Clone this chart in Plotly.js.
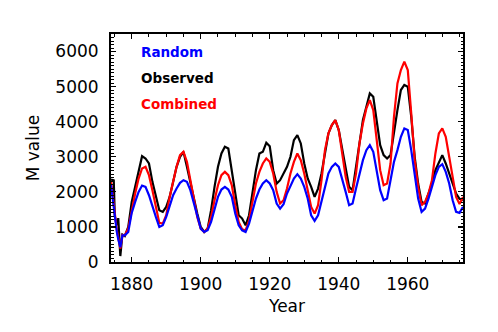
<!DOCTYPE html>
<html>
<head>
<meta charset="utf-8">
<script src="https://cdn.plot.ly/plotly-3.0.1.min.js"></script>
<style>html,body{margin:0;padding:0;background:#fff;}#chart{width:498px;height:332px;}</style>
</head>
<body>
<div id="chart"></div>
<script>
const years = [1874.0, 1874.8, 1875.1, 1875.7, 1876.1, 1876.7, 1877.3, 1878,
  1879, 1880, 1881, 1882, 1883, 1884, 1885, 1886, 1887, 1888, 1889,
  1890, 1891, 1892, 1893, 1894, 1895, 1896, 1897, 1898, 1899,
  1900, 1901, 1902, 1903, 1904, 1905, 1906, 1907, 1908, 1909,
  1910, 1911, 1912, 1913, 1914, 1915, 1916, 1917, 1918, 1919,
  1920, 1921, 1922, 1923, 1924, 1925, 1926, 1927, 1928, 1929,
  1930, 1931, 1932, 1933, 1934, 1935, 1936, 1937, 1938, 1939,
  1940, 1941, 1942, 1943, 1944, 1945, 1946, 1947, 1948, 1949,
  1950, 1951, 1952, 1953, 1954, 1955, 1956, 1957, 1958, 1959,
  1960, 1961, 1962, 1963, 1964, 1965, 1966, 1967, 1968, 1969,
  1970, 1971, 1972, 1973, 1974, 1975, 1976];

const observed = [2350, 2330, 1300, 1050, 1250, 170, 780, 740,
  1000, 1714, 2142, 2618, 3018, 2951, 2808, 2285, 1856, 1476, 1428,
  1571, 1856, 2332, 2713, 2999, 3142, 2713, 2237, 1856, 1380,
  1000, 857, 952, 1476, 2142, 2713, 3094, 3284, 3237, 2618,
  1952, 1333, 1238, 1047, 1333, 1952, 2618, 3094, 3142, 3400,
  3300, 2618, 2237, 2332, 2523, 2713, 2999, 3475, 3618, 3380,
  2808, 2380, 2142, 1856, 2094, 2523, 3094, 3665, 3903, 4046,
  3760, 3189, 2618, 2142, 2047, 2713, 3475, 4046, 4427, 4808,
  4712, 3951, 3332, 3046, 2951, 3046, 3760, 4332, 4903, 5046,
  4998, 4141, 2999, 2237, 1714, 1666, 1952, 2237, 2618, 2856,
  3046, 2808, 2523, 2285, 1952, 1800, 1761];

const combined = [2300, 1600, 1300, 900, 700, 380, 770, 760,
  952, 1476, 1952, 2380, 2666, 2713, 2475, 2047, 1571, 1114, 1095,
  1333, 1856, 2332, 2713, 3046, 3142, 2856, 2332, 1856, 1285,
  952, 857, 952, 1285, 1761, 2190, 2475, 2570, 2475, 2190,
  1618, 1142, 933, 904, 1190, 1761, 2237, 2570, 2808, 2951,
  2856, 2523, 2000, 1666, 1761, 2094, 2523, 2856, 3094, 2904,
  2523, 2047, 1571, 1380, 1618, 2332, 3189, 3665, 3903, 4046,
  3760, 3094, 2428, 2000, 2000, 2523, 3380, 3951, 4379, 4617,
  4332, 3475, 2618, 2190, 2237, 2808, 4141, 5093, 5474, 5712,
  5474, 4236, 2904, 2142, 1618, 1714, 1952, 2332, 3094, 3665,
  3808, 3570, 2999, 2428, 1856, 1650, 1850];

const random = [2200, 1550, 1250, 850, 650, 420, 760, 760,
  857, 1400, 1714, 2000, 2180, 2142, 1904, 1571, 1285, 1000, 1047,
  1285, 1618, 1904, 2094, 2256, 2332, 2285, 2047, 1666, 1285,
  952, 857, 904, 1142, 1476, 1856, 2066, 2142, 2066, 1856,
  1380, 1047, 904, 857, 1095, 1428, 1809, 2066, 2237, 2332,
  2237, 2047, 1666, 1523, 1647, 1952, 2190, 2380, 2504, 2380,
  2142, 1809, 1333, 1171, 1333, 1761, 2190, 2523, 2713, 2808,
  2713, 2380, 2000, 1618, 1666, 2094, 2523, 2904, 3189, 3332,
  3142, 2618, 2047, 1761, 1809, 2332, 2856, 3189, 3570, 3808,
  3760, 3189, 2523, 1809, 1428, 1523, 1809, 2142, 2475, 2713,
  2790, 2570, 2237, 1761, 1428, 1400, 1571];

const seriesNames = ['Random', 'Observed', 'Combined'];
const seriesColors = ['#0000ff', '#000000', '#ff0000'];
const seriesData = [random, observed, combined];
const xTicks = [1880, 1900, 1920, 1940, 1960];
const yTicks = [0, 1000, 2000, 3000, 4000, 5000, 6000];

const FONT = 'DejaVu Sans, sans-serif';

const order = [1, 2, 0];
const traces = order.map(i => ({
  x: years, y: seriesData[i], type: 'scatter', mode: 'lines',
  name: seriesNames[i],
  line: {color: seriesColors[i], width: 2.2},
  showlegend: false
}));

const legendY = [0.922, 0.806, 0.692];
const annotations = seriesNames.map((n, i) => ({
  xref: 'paper', yref: 'paper', x: 0.08, y: legendY[i],
  xanchor: 'left', yanchor: 'middle', showarrow: false,
  text: '<b>' + n + '</b>',
  font: {family: FONT, size: 13.5, color: seriesColors[i]}
}));

const layout = {
  width: 498, height: 332,
  margin: {l: 111, r: 35, t: 34, b: 70},
  paper_bgcolor: '#fff', plot_bgcolor: '#fff',
  showlegend: false,
  font: {family: FONT, size: 17, color: '#000'},
  xaxis: {
    range: [1874, 1976], tickvals: xTicks, ticktext: xTicks.map(String),
    ticks: 'inside', ticklen: 5, tickwidth: 1.2, tickcolor: '#000',
    minor: {dtick: 5, tick0: 1880, ticks: 'inside', ticklen: 2.5, tickwidth: 1, tickcolor: '#000', showgrid: false},
    mirror: 'allticks', showline: true, linewidth: 2, linecolor: '#000',
    showgrid: false, zeroline: false,
    tickfont: {family: FONT, size: 17, color: '#000'},
    ticklabelstandoff: 6,
    title: {text: 'Year', font: {family: FONT, size: 17, color: '#000'}, standoff: 7}
  },
  yaxis: {
    range: [0, 6500], tickvals: yTicks, ticktext: yTicks.map(String),
    ticks: 'inside', ticklen: 5, tickwidth: 1.2, tickcolor: '#000',
    minor: {dtick: 100, tick0: 0, ticks: 'inside', ticklen: 2.5, tickwidth: 1, tickcolor: '#000', showgrid: false},
    mirror: 'allticks', showline: true, linewidth: 2, linecolor: '#000',
    showgrid: false, zeroline: false,
    tickfont: {family: FONT, size: 17, color: '#000'},
    ticklabelstandoff: 7,
    title: {text: 'M value', font: {family: FONT, size: 17, color: '#000'}, standoff: 11}
  },
  annotations: annotations
};

Plotly.newPlot('chart', traces, layout, {staticPlot: true, displayModeBar: false});
</script>
</body>
</html>
